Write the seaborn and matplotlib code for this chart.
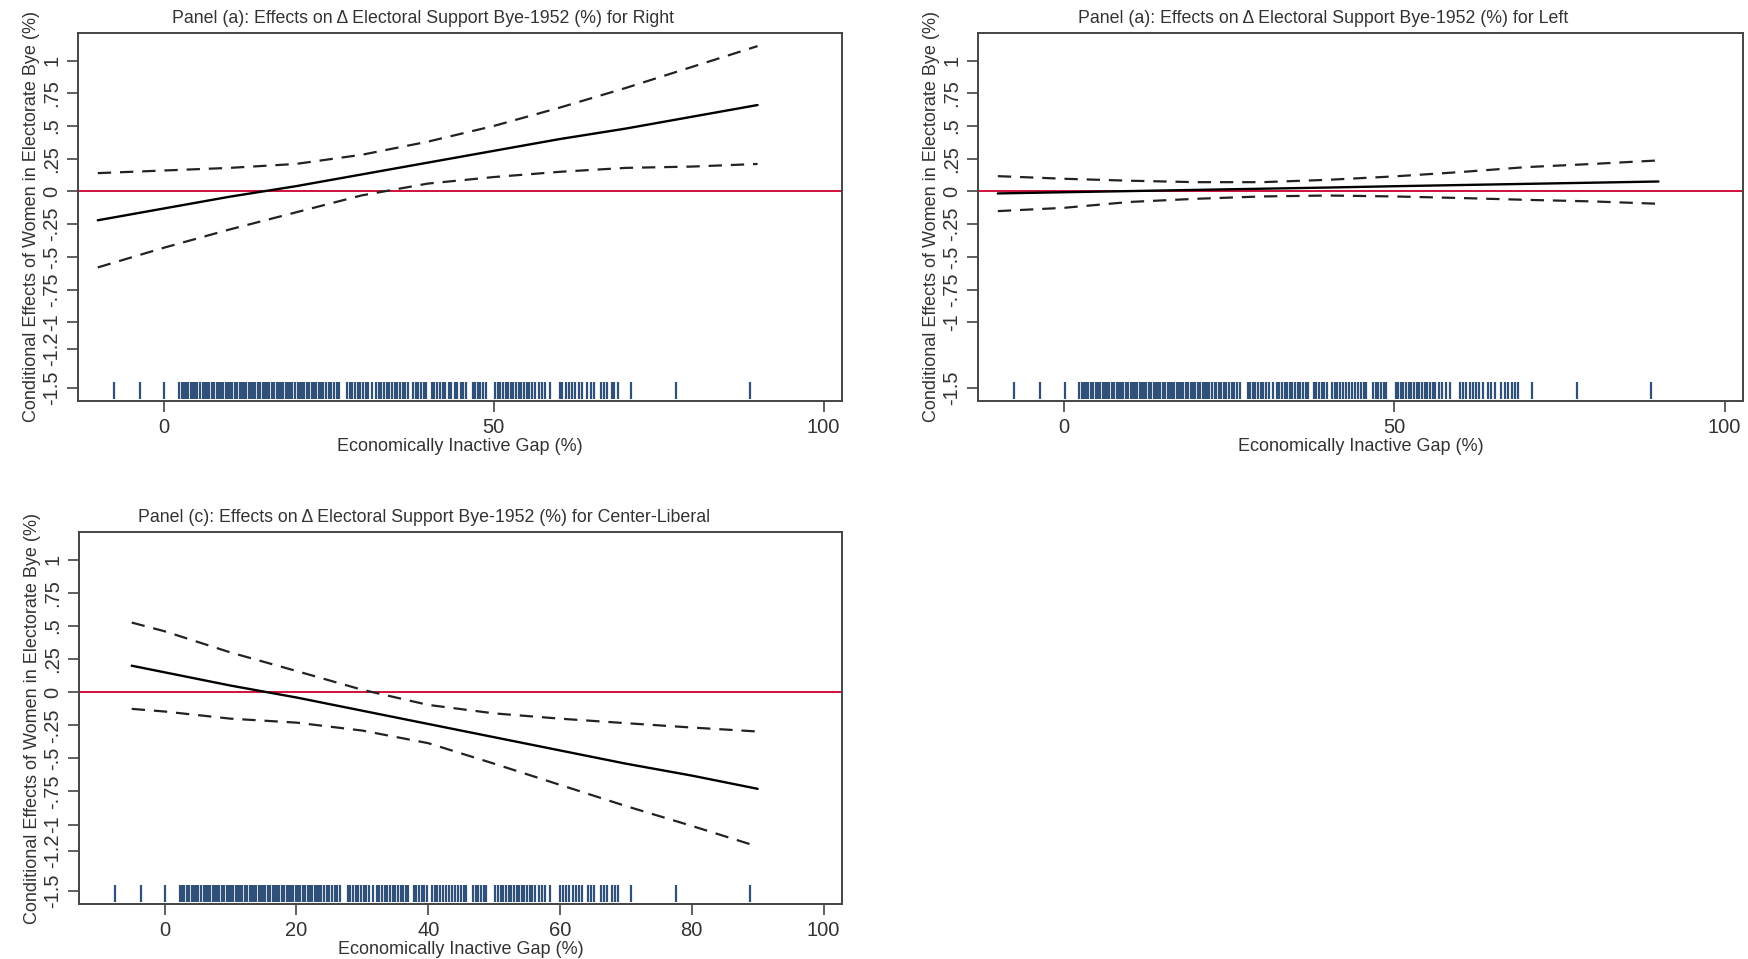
import matplotlib
matplotlib.use("Agg")
import matplotlib.pyplot as plt
import seaborn as sns
import pandas as pd

sns.set_theme(style="white")
plt.rcParams['font.family'] = ['Liberation Sans', 'DejaVu Sans']

# ---- data ----
x_right = [-10, 0, 10, 20, 30, 40, 50, 60, 70, 80, 90]
est_right = [-0.22, -0.13, -0.04, 0.04, 0.13, 0.22, 0.31, 0.40, 0.48, 0.57, 0.66]
hi_right = [0.14, 0.16, 0.18, 0.21, 0.28, 0.38, 0.50, 0.64, 0.79, 0.95, 1.11]
lo_right = [-0.58, -0.43, -0.29, -0.16, -0.03, 0.06, 0.11, 0.15, 0.18, 0.19, 0.21]

x_left = [-10, 0, 10, 20, 30, 40, 50, 60, 70, 80, 90]
est_left = [-0.015, -0.006, 0.003, 0.012, 0.021, 0.030, 0.040, 0.049, 0.058, 0.067, 0.076]
hi_left = [0.117, 0.097, 0.082, 0.071, 0.071, 0.089, 0.115, 0.148, 0.186, 0.210, 0.237]
lo_left = [-0.150, -0.125, -0.080, -0.056, -0.038, -0.031, -0.038, -0.050, -0.064, -0.076, -0.094]

x_cl = [-5, 0, 10, 20, 30, 40, 50, 60, 70, 80, 90]
est_cl = [0.20, 0.15, 0.05, -0.04, -0.14, -0.24, -0.34, -0.44, -0.54, -0.63, -0.73]
hi_cl = [0.526, 0.46, 0.30, 0.16, 0.018, -0.096, -0.16, -0.20, -0.234, -0.267, -0.297]
lo_cl = [-0.126, -0.146, -0.20, -0.23, -0.29, -0.385, -0.54, -0.70, -0.86, -1.01, -1.166]

rug_x = [-7.6, -3.6, 0.1,
         2.3, 2.7, 3.0, 3.4, 3.7, 4.1, 4.4, 4.8, 5.1, 5.5, 5.9, 6.2, 6.6, 6.9, 7.3, 7.6,
         8.0, 8.3, 8.7, 9.0, 9.4, 9.7, 10.1, 10.4, 10.8, 11.1, 11.5, 11.8, 12.2, 12.5,
         12.9, 13.2, 13.6, 13.9, 14.3, 14.6, 15.0, 15.3, 15.7, 16.0, 16.4, 16.7, 17.1,
         17.4, 17.8, 18.1, 18.5, 18.8, 19.2, 19.5, 19.9, 20.3, 20.6, 21.0, 21.3, 21.7,
         22.0, 22.4, 22.8, 23.1, 23.5, 23.8, 24.2, 24.6, 25.0, 25.4, 25.8, 26.2, 26.6,
         27.8, 28.2, 28.6, 29.0, 29.4, 29.8, 30.2, 30.6, 31.0, 31.6,
         32.2, 32.6, 33.0, 33.4, 33.8, 34.2, 34.6, 35.0, 35.4, 35.8, 36.2, 36.6, 37.0,
         37.8, 38.2, 38.6, 39.0, 39.4, 39.8,
         40.6, 41.0, 41.4, 41.8, 42.3, 42.7, 43.2, 43.6, 44.1, 44.5, 45.0, 45.4, 45.8,
         46.8, 47.2, 47.6, 48.0, 48.4, 48.8,
         50.2, 50.6, 51.0, 51.4, 51.8, 52.2, 52.6, 53.0, 53.4, 53.8, 54.2, 54.6, 55.0,
         55.4, 55.8, 56.2, 56.8, 57.3, 57.8, 58.5, 60.0, 60.4, 60.9, 61.4, 61.9, 62.4,
         62.9, 63.4, 64.2, 64.7, 65.2, 66.2, 66.7, 67.2, 67.9, 68.3, 68.8, 70.8, 77.6, 88.9]

yticks_full = [1, 0.75, 0.5, 0.25, 0, -0.25, -0.5, -0.75, -1, -1.2, -1.5]
ylabels_full = ["1", ".75", ".5", ".25", "0", "-.25", "-.5", "-.75", "-1", "-1.2", "-1.5"]
yticks_left = [1, 0.75, 0.5, 0.25, 0, -0.25, -0.5, -0.75, -1, -1.5]
ylabels_left = ["1", ".75", ".5", ".25", "0", "-.25", "-.5", "-.75", "-1", "-1.5"]

titles = ["Panel (a): Effects on \u0394 Electoral Support Bye-1952 (%) for Right",
          "Panel (a): Effects on \u0394 Electoral Support Bye-1952 (%) for Left",
          "Panel (c): Effects on \u0394 Electoral Support Bye-1952 (%) for Center-Liberal"]
xlabel = "Economically Inactive Gap (%)"
ylabel = "Conditional Effects of Women in Electorate Bye (%)"

fig = plt.figure(figsize=(17.49, 9.59), dpi=100)
fig.patch.set_facecolor("white")
W, H = 1749, 959
def rect(l, t, r, b):
    return [l / W, 1 - b / H, (r - l) / W, (b - t) / H]

axes = [fig.add_axes(rect(78, 33, 842, 401)),
        fig.add_axes(rect(978, 33, 1743, 401)),
        fig.add_axes(rect(79, 532, 842, 904))]

panels = [(x_right, est_right, hi_right, lo_right, [0, 50, 100], yticks_full, ylabels_full),
          (x_left, est_left, hi_left, lo_left, [0, 50, 100], yticks_left, ylabels_left),
          (x_cl, est_cl, hi_cl, lo_cl, [0, 20, 40, 60, 80, 100], yticks_full, ylabels_full)]

txtcol = "#333333"
for ax, (xs, est, hi, lo, xt, yt, yl), title in zip(axes, panels, titles):
    df = pd.DataFrame({"x": xs, "est": est, "hi": hi, "lo": lo})
    ax.axhline(0, color="#d0103a", lw=1.4, zorder=1)
    sns.lineplot(data=df, x="x", y="est", ax=ax, color="black", lw=1.7, zorder=3)
    sns.lineplot(data=df, x="x", y="hi", ax=ax, color="#222222", lw=1.6,
                 linestyle=(0, (6, 4)), zorder=3)
    sns.lineplot(data=df, x="x", y="lo", ax=ax, color="#222222", lw=1.6,
                 linestyle=(0, (6, 4)), zorder=3)
    ax.vlines(rug_x, -1.583, -1.455, color="#2f5079", lw=1.6, zorder=2)
    ax.set_xlim(-13, 102.8)
    ax.set_ylim(-1.60, 1.21)
    ax.set_xticks(xt)
    ax.set_xticklabels([str(v) for v in xt])
    ax.set_yticks(yt)
    ax.set_yticklabels(yl, rotation=90, va="center")
    ax.tick_params(axis="both", direction="out", length=8, width=1.2, color="#444444",
                   labelsize=14.5, labelcolor=txtcol, pad=4, left=True, bottom=True)
    for s in ax.spines.values():
        s.set_visible(True)
        s.set_color("#444444")
        s.set_linewidth(1.4)
    ax.set_xlabel(xlabel, fontsize=13, color=txtcol, labelpad=1)
    ax.set_ylabel(ylabel, fontsize=13, color=txtcol, labelpad=2)
    ax.set_title(title, fontsize=12.8, color=txtcol, x=0.4516, pad=7)
    ax.grid(False)

fig.savefig("out.png", dpi=100, facecolor="white")
